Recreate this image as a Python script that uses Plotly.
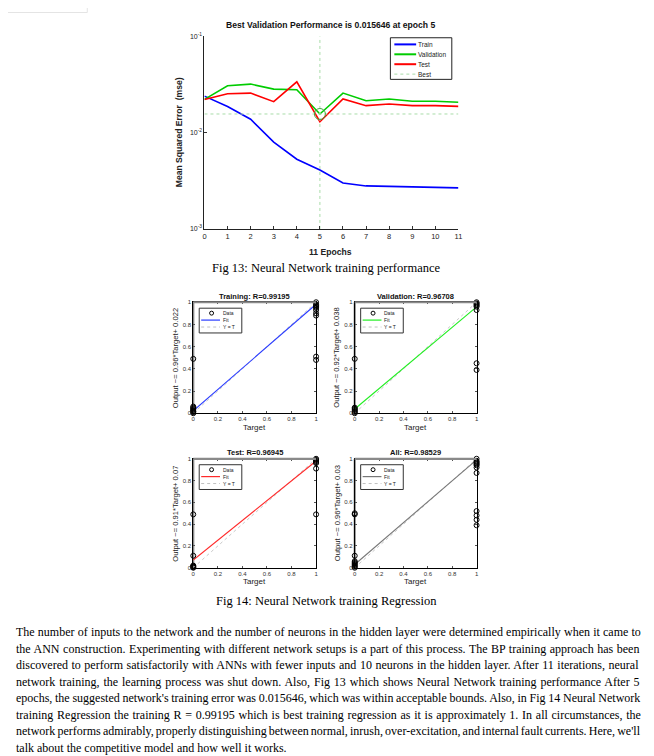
import plotly.graph_objects as go

# The page body has an 8px default margin: the figure starts at (8, 8) in the window.
PAGE_W, PAGE_H = 654, 756
OFF = 8
W, H = PAGE_W - 2 * OFF, PAGE_H - OFF


def fx(px):
    return (px - OFF) / W


def fy(py):
    return 1 - (py - OFF) / H


# ---------------- data: training performance (Fig 13) ----------------
epochs = [0, 1, 2, 3, 4, 5, 6, 7, 8, 9, 10, 11]
train_mse = [0.0240, 0.0187, 0.0138, 0.0080, 0.0053, 0.0041, 0.0030, 0.0028, 0.00277, 0.00273, 0.0027, 0.00267]
val_mse = [0.0222, 0.0308, 0.0320, 0.0284, 0.0280, 0.015646, 0.0258, 0.0215, 0.0224, 0.0212, 0.0212, 0.0207]
test_mse = [0.0221, 0.0254, 0.0258, 0.0210, 0.0338, 0.0130, 0.0224, 0.0191, 0.0199, 0.0191, 0.0191, 0.0188]
best_epoch = 5
best_perf = 0.015646
y_tick_vals = [0.001, 0.01, 0.1]
y_tick_text = ["10<sup>-3</sup>", "10<sup>-2</sup>", "10<sup>-1</sup>"]

# ---------------- data: regression (Fig 14) ----------------
panel_titles = ["Training: R=0.99195", "Validation: R=0.96708", "Test: R=0.96945", "All: R=0.98529"]
panel_ylabels = ["Output ~= 0.96*Target+ 0.022", "Output ~= 0.92*Target+ 0.038",
                 "Output ~= 0.91*Target+ 0.07", "Output ~= 0.96*Target+ 0.03"]
fit_slopes = [0.96, 0.92, 0.91, 0.96]
fit_intercepts = [0.022, 0.038, 0.07, 0.03]

train_reg_target = [0, 0, 0, 0, 0, 0, 0, 0, 0, 1, 1, 1, 1, 1, 1, 1, 1, 1, 1]
train_reg_output = [0.0, 0.01, 0.02, 0.03, 0.04, 0.05, 0.06, 0.015, 0.49,
                    0.48, 0.51, 0.88, 0.90, 0.93, 0.95, 0.96, 0.97, 0.98, 1.0]
val_reg_target = [0, 0, 0, 0, 0, 0, 0, 1, 1, 1, 1, 1, 1, 1, 1]
val_reg_output = [0.0, 0.01, 0.02, 0.03, 0.04, 0.05, 0.49,
                  0.39, 0.45, 0.93, 0.96, 0.97, 0.98, 0.99, 1.0]
test_reg_target = [0, 0, 0, 0, 0, 0, 0, 1, 1, 1, 1, 1, 1, 1]
test_reg_output = [0.0, 0.005, 0.01, 0.015, 0.02, 0.11, 0.49,
                   0.49, 0.91, 0.96, 0.97, 0.98, 0.99, 1.0]
all_reg_target = [0, 0, 0, 0, 0, 0, 0, 0, 0, 0, 1, 1, 1, 1, 1, 1, 1, 1, 1, 1, 1, 1]
all_reg_output = [0.0, 0.01, 0.02, 0.03, 0.04, 0.05, 0.06, 0.11, 0.49, 0.50,
                  0.39, 0.44, 0.48, 0.52, 0.87, 0.92, 0.94, 0.95, 0.96, 0.97, 0.98, 1.0]
reg_targets = [train_reg_target, val_reg_target, test_reg_target, all_reg_target]
reg_outputs = [train_reg_output, val_reg_output, test_reg_output, all_reg_output]
reg_ticks = [0, 0.2, 0.4, 0.6, 0.8, 1]
reg_tick_text = ["0", "0.2", "0.4", "0.6", "0.8", "1"]

# ---------------- text ----------------
caption13 = "Fig 13: Neural Network training performance"
caption14 = "Fig 14: Neural Network training Regression"
body_lines = [
    "The number of inputs to the network and the number of neurons in the hidden layer were determined empirically when it came to",
    "the ANN construction. Experimenting with different network setups is a part of this process. The BP training approach has been",
    "discovered to perform satisfactorily with ANNs with fewer inputs and 10 neurons in the hidden layer. After 11 iterations, neural",
    "network training, the learning process was shut down. Also, Fig 13 which shows Neural Network training performance After 5",
    "epochs, the suggested network's training error was 0.015646, which was within acceptable bounds. Also, in Fig 14 Neural Network",
    "training Regression the training R = 0.99195 which is best training regression as it is approximately 1. In all circumstances, the",
    "network performs admirably, properly distinguishing between normal, inrush, over-excitation, and internal fault currents. Here, we'll",
    "talk about the competitive model and how well it works.",
]

# ---------------- styles ----------------
SANS = "Liberation Sans, Arial, sans-serif"
SERIF = "Liberation Serif, Times New Roman, serif"
C_TRAIN = "#0000ff"
C_VAL = "#00cc00"
C_TEST = "#ff0000"
fit_colors = ["#2a3cff", "#22ee22", "#ff2a2a", "#777777"]

fig = go.Figure()

# ---- main performance chart ----
fig.add_trace(go.Scatter(x=epochs, y=train_mse, mode="lines", line=dict(color=C_TRAIN, width=1.6),
                         name="Train", xaxis="x", yaxis="y"))
fig.add_trace(go.Scatter(x=epochs, y=val_mse, mode="lines", line=dict(color=C_VAL, width=1.6),
                         name="Validation", xaxis="x", yaxis="y"))
fig.add_trace(go.Scatter(x=epochs, y=test_mse, mode="lines", line=dict(color=C_TEST, width=1.6),
                         name="Test", xaxis="x", yaxis="y"))
fig.add_trace(go.Scatter(x=[best_epoch, best_epoch, None, epochs[0], epochs[-1]],
                         y=[y_tick_vals[0], y_tick_vals[-1] * 1.15, None, best_perf, best_perf],
                         mode="lines", line=dict(color="#a8dca8", width=1, dash="dot"),
                         name="Best", xaxis="x", yaxis="y", cliponaxis=False))
fig.add_trace(go.Scatter(x=[best_epoch], y=[best_perf], mode="markers",
                         marker=dict(symbol="circle-open", size=11, color="#44aa44", line=dict(width=1)),
                         xaxis="x", yaxis="y", showlegend=False))

# ---- regression panels ----
panel_boxes = [(193, 301, 317, 413), (356, 301, 479, 413), (193, 459, 317, 569), (356, 459, 479, 569)]
for i in range(4):
    ax = str(i + 2)
    fig.add_trace(go.Scatter(x=[reg_ticks[0], reg_ticks[-1]], y=[reg_ticks[0], reg_ticks[-1]], mode="lines",
                             line=dict(color="#c8c8c8", width=1, dash="dot"),
                             xaxis="x" + ax, yaxis="y" + ax, showlegend=False))
    fig.add_trace(go.Scatter(x=[reg_ticks[0], reg_ticks[-1]],
                             y=[fit_intercepts[i], fit_slopes[i] * reg_ticks[-1] + fit_intercepts[i]],
                             mode="lines", line=dict(color=fit_colors[i], width=1.1),
                             xaxis="x" + ax, yaxis="y" + ax, showlegend=False))
    fig.add_trace(go.Scatter(x=reg_targets[i], y=reg_outputs[i], mode="markers",
                             marker=dict(symbol="circle-open", size=5, color="black", line=dict(width=1)),
                             xaxis="x" + ax, yaxis="y" + ax, showlegend=False, cliponaxis=False))

layout = dict(
    width=W, height=H, margin=dict(l=0, r=0, t=0, b=0),
    paper_bgcolor="white", plot_bgcolor="white", showlegend=False,
    xaxis=dict(domain=[fx(204.3), fx(460.7)], range=[0, 11], anchor="y", tickvals=epochs,
               ticks="inside", ticklen=3, tickcolor="#333", showline=True, linecolor="#222", linewidth=1,
               showgrid=False, zeroline=False, tickfont=dict(family=SANS, size=7.5, color="#222")),
    yaxis=dict(domain=[fy(227), fy(32.7)], type="log", range=[-3, -1], anchor="x",
               tickvals=y_tick_vals, ticktext=y_tick_text, ticks="inside", ticklen=3, tickcolor="#333",
               showline=True, linecolor="#222", linewidth=1, showgrid=False, zeroline=False,
               tickfont=dict(family=SANS, size=7, color="#222")),
)
for i, (l, t, r, b) in enumerate(panel_boxes):
    ax = str(i + 2)
    common = dict(range=[0, 1], tickvals=reg_ticks, ticktext=reg_tick_text, ticks="inside", ticklen=2,
                  tickcolor="#555", showline=True, linecolor="black", linewidth=1, mirror="ticks",
                  showgrid=False, zeroline=False, tickfont=dict(family=SANS, size=6, color="#333"))
    layout["xaxis" + ax] = dict(domain=[fx(l), fx(r)], anchor="y" + ax, **common)
    layout["yaxis" + ax] = dict(domain=[fy(b), fy(t)], anchor="x" + ax, **common)

fig.update_layout(**layout)

ann = []
shapes = []

# main chart labels
ann.append(dict(x=fx(332), y=fy(21.5), text="<b>Best Validation Performance is 0.015646 at epoch 5</b>",
                font=dict(family=SANS, size=8.6, color="#111")))
ann.append(dict(x=fx(178), y=fy(129), text="<b>Mean Squared Error  (mse)</b>", textangle=-90,
                font=dict(family=SANS, size=8.6, color="#222")))
ann.append(dict(x=fx(332), y=fy(250), text="<b>11 Epochs</b>", font=dict(family=SANS, size=8.6, color="#222")))

# main legend
shapes.append(dict(type="rect", xref="paper", yref="paper", x0=fx(392), x1=fx(454), y0=fy(76), y1=fy(34),
                   line=dict(color="#222", width=1), fillcolor="white", layer="above"))
leg_items = [("Train", C_TRAIN, "solid", 2), ("Validation", C_VAL, "solid", 2), ("Test", C_TEST, "solid", 2),
             ("Best", "#a8dca8", "dot", 1)]
for k, (name, col, dash, wd) in enumerate(leg_items):
    yy = 40.7 + 10 * k
    shapes.append(dict(type="line", xref="paper", yref="paper", x0=fx(396), x1=fx(418), y0=fy(yy), y1=fy(yy),
                       line=dict(color=col, width=wd, dash=dash), layer="above"))
    ann.append(dict(x=fx(419), y=fy(yy), text=name, xanchor="left",
                    font=dict(family=SANS, size=6.5, color="#222")))

# panel decorations
for i, (l, t, r, b) in enumerate(panel_boxes):
    ax = str(i + 2)
    shapes.append(dict(type="line", xref="x" + ax + " domain", yref="y" + ax + " domain", x0=0, x1=1, y0=1, y1=1,
                       line=dict(color="#8a8a8a", width=2.2), layer="above"))
    shapes.append(dict(type="line", xref="x" + ax + " domain", yref="y" + ax + " domain", x0=0, x1=0, y0=0, y1=1,
                       line=dict(color="#8a8a8a", width=2.2), layer="below"))
    ann.append(dict(x=fx((l + r) / 2), y=fy(t - 6), text="<b>" + panel_titles[i] + "</b>",
                    font=dict(family=SANS, size=7.5, color="#111")))
    ann.append(dict(x=fx((l + r) / 2), y=fy(b + 14), text="Target",
                    font=dict(family=SANS, size=8, color="#222")))
    ann.append(dict(x=fx(l - 18), y=fy((t + b) / 2), text=panel_ylabels[i], textangle=-90,
                    font=dict(family=SANS, size=7.6, color="#222")))
    # legend box
    shapes.append(dict(type="rect", xref="paper", yref="paper", x0=fx(l + 6), x1=fx(l + 49),
                       y0=fy(t + 31), y1=fy(t + 6), line=dict(color="#333", width=1),
                       fillcolor="white", layer="above"))
    cy = t + 11
    shapes.append(dict(type="circle", xref="paper", yref="paper", x0=fx(l + 16.5), x1=fx(l + 20.5),
                       y0=fy(cy + 2), y1=fy(cy - 2), line=dict(color="black", width=1), layer="above"))
    shapes.append(dict(type="line", xref="paper", yref="paper", x0=fx(l + 8), x1=fx(l + 27),
                       y0=fy(t + 18), y1=fy(t + 18), line=dict(color=fit_colors[i], width=1.2), layer="above"))
    shapes.append(dict(type="line", xref="paper", yref="paper", x0=fx(l + 8), x1=fx(l + 27),
                       y0=fy(t + 25), y1=fy(t + 25), line=dict(color="#c0c0c0", width=1, dash="dot"),
                       layer="above"))
    for txt, yy in (("Data", t + 11), ("Fit", t + 18), ("Y = T", t + 25)):
        ann.append(dict(x=fx(l + 29), y=fy(yy), text=txt, xanchor="left",
                        font=dict(family=SANS, size=5, color="#222")))

# captions
ann.append(dict(x=fx(327), y=fy(266.5), text=caption13, font=dict(family=SERIF, size=12.5, color="black")))
ann.append(dict(x=fx(327), y=fy(602.5), text=caption14, font=dict(family=SERIF, size=12.5, color="black")))

# body text, justified via word-spacing using Times metrics
TW = {' ': 250, '.': 250, ',': 250, ':': 278, "'": 180, '-': 333, '=': 564, '(': 333, ')': 333,
      'A': 722, 'B': 667, 'C': 667, 'D': 722, 'E': 611, 'F': 556, 'G': 722, 'H': 722, 'I': 333, 'J': 389,
      'K': 722, 'L': 611, 'M': 889, 'N': 722, 'O': 722, 'P': 556, 'Q': 722, 'R': 667, 'S': 556, 'T': 611,
      'U': 722, 'V': 722, 'W': 944, 'X': 722, 'Y': 722, 'Z': 611,
      'a': 444, 'b': 500, 'c': 444, 'd': 500, 'e': 444, 'f': 333, 'g': 500, 'h': 500, 'i': 278, 'j': 278,
      'k': 500, 'l': 278, 'm': 778, 'n': 500, 'o': 500, 'p': 500, 'q': 500, 'r': 333, 's': 389, 't': 278,
      'u': 500, 'v': 500, 'w': 722, 'x': 500, 'y': 500, 'z': 444}
BODY_FS = 12
LEFT, RIGHT = 13, 638
for k, line in enumerate(body_lines):
    yy = 634 + 16.7 * k
    txt = line
    if k < len(body_lines) - 1:
        nat = sum(TW.get(ch, 500) for ch in line) * BODY_FS / 1000.0
        nsp = line.count(" ")
        extra = (RIGHT - LEFT - nat) / max(nsp, 1)
        txt = '<span style="word-spacing:%.2fpx">%s</span>' % (extra, line)
    ann.append(dict(x=fx(LEFT), y=fy(yy), text=txt, xanchor="left",
                    font=dict(family=SERIF, size=BODY_FS, color="black")))

for a in ann:
    a.setdefault("xref", "paper")
    a.setdefault("yref", "paper")
    a.setdefault("showarrow", False)
    a.setdefault("yanchor", "middle")
    a.setdefault("xanchor", "center")
    a.setdefault("borderpad", 0)

# decorative remnant at top-left of the page (only the part inside the figure is visible)
shapes.append(dict(type="rect", xref="paper", yref="paper", x0=fx(2), x1=fx(86), y0=fy(8.5), y1=fy(-2),
                   line=dict(color="#e4e4e4", width=1), fillcolor="rgba(0,0,0,0)"))

fig.update_layout(annotations=ann, shapes=shapes)
fig.write_html("out.html")
